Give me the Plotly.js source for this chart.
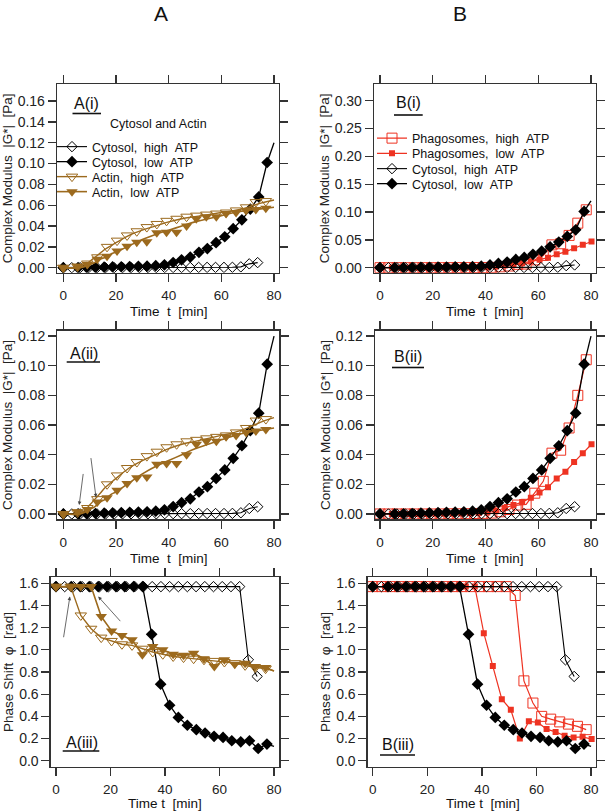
<!DOCTYPE html>
<html><head><meta charset="utf-8">
<script src="https://cdn.plot.ly/plotly-3.0.1.min.js"></script>
<style>html,body{margin:0;padding:0;background:#fff}#chart{width:609px;height:811px}</style>
</head><body><div id="chart"></div>
<script>
// ---------------- DATA ----------------
// Cytosol, high ATP
const cytHighT   = [0,3.2,6.4,9.6,12.8,16.0,19.3,22.5,25.7,28.9,32.1,35.3,38.5,41.7,44.9,48.2,51.4,54.6,57.8,61.0,64.2,67.4,70.6,73.8];
const cytHighG   = [0,0,0,0,0,0,0,0.0001,0.0001,0.0001,0.0001,0.0001,0.0002,0.0002,0.0002,0.0002,0.0003,0.0003,0.0003,0.0003,0.0004,0.0008,0.0037,0.0049];
const cytHighPhi = [1.57,1.57,1.57,1.57,1.57,1.57,1.57,1.57,1.57,1.57,1.57,1.57,1.57,1.57,1.57,1.57,1.57,1.57,1.57,1.57,1.57,1.57,0.91,0.76];
// Cytosol, low ATP
const cytLowT    = [0,5.6,8.9,12.2,15.5,18.7,22.0,25.2,28.5,31.8,35.1,38.4,41.7,44.9,48.2,51.5,54.7,58.0,61.3,64.5,67.8,71.0,74.2,77.4];
const cytLowG    = [0,0,0.0001,0.0003,0.0005,0.0007,0.0009,0.0011,0.0013,0.0015,0.0019,0.0028,0.005,0.0076,0.0102,0.0148,0.0184,0.024,0.0297,0.0375,0.046,0.0562,0.068,0.101];
const cytLowPhi  = [1.57,1.57,1.57,1.57,1.57,1.57,1.57,1.57,1.57,1.57,1.14,0.69,0.50,0.39,0.32,0.28,0.25,0.22,0.21,0.18,0.17,0.18,0.11,0.15];
const cytLowEndT = 80, cytLowEndG = 0.12, cytLowEndPhi = 0.13;
// Actin
const actinT       = [0,5.4,9.1,12.9,16.6,20.4,24.2,27.9,31.7,35.5,39.2,43.0,46.8,50.5,54.3,58.1,61.8,65.6,69.4,73.1,76.9];
const actinHighG   = [0,0.001,0.004,0.010,0.020,0.026,0.031,0.035,0.039,0.042,0.045,0.047,0.049,0.050,0.051,0.052,0.053,0.055,0.058,0.063,0.064];
const actinLowG    = [0,0.0015,0.003,0.008,0.011,0.016,0.0205,0.0245,0.025,0.0335,0.034,0.034,0.040,0.047,0.049,0.049,0.052,0.053,0.055,0.056,0.057];
const actinHighPhi = [1.57,1.57,1.31,1.19,1.11,1.08,1.05,1.04,1.01,0.98,0.96,0.94,0.93,0.92,0.91,0.90,0.89,0.88,0.86,0.84,0.83];
const actinLowPhi  = [1.57,1.57,1.57,1.57,1.30,1.17,1.13,1.09,0.955,1.03,1.00,0.96,0.95,0.97,0.92,0.85,0.91,0.87,0.88,0.85,0.84];
const actinEndT = 80, actinHighEndPhi = 0.81, actinLowEndPhi = 0.81;
// Actin fitted curves (modulus)
const actinFitT     = [0,6,8,10,12,14,16,18,20,25,30,35,40,45,50,55,60,65,70,75,80];
const actinHighFitG = [0,0,0.002,0.006,0.010,0.014,0.018,0.021,0.024,0.031,0.036,0.040,0.044,0.047,0.049,0.051,0.053,0.055,0.058,0.062,0.065];
const actinLowFitG  = [0,0,0.001,0.003,0.005,0.008,0.010,0.013,0.015,0.021,0.027,0.032,0.036,0.040,0.044,0.047,0.050,0.053,0.055,0.0565,0.058];
// Phagosomes, high ATP
const phHighT   = [0,3.3,6.5,9.8,13.0,16.3,19.6,22.8,26.1,29.3,32.6,35.9,39.1,42.4,45.6,48.9,52.2,55.4,58.7,61.9,65.2,68.5,71.7,75.0,78.2];
const phHighG   = [0,0,0,0,0,0,0,0,0.0001,0.0001,0.0002,0.0003,0.0004,0.0006,0.0015,0.003,0.006,0.0065,0.014,0.022,0.041,0.043,0.058,0.080,0.104];
const phHighPhi = [1.57,1.57,1.57,1.57,1.57,1.57,1.57,1.57,1.57,1.57,1.57,1.57,1.57,1.57,1.57,1.57,1.49,0.72,0.52,0.40,0.375,0.35,0.33,0.31,0.28];
// Phagosomes, low ATP
const phLowT    = [0,4.5,7.8,11.1,14.4,17.7,21.0,24.3,27.5,30.8,34.1,37.4,40.7,44.0,47.3,50.6,53.9,57.2,60.5,63.7,67.0,70.3,73.6,76.9,80.2];
const phLowG    = [0,0,0,0,0,0,0.0001,0.0001,0.0002,0.0003,0.0004,0.0006,0.001,0.002,0.004,0.006,0.008,0.011,0.0144,0.018,0.024,0.0285,0.035,0.041,0.047];
const phLowPhi  = [1.57,1.57,1.57,1.57,1.57,1.57,1.57,1.57,1.57,1.57,1.57,1.57,1.15,0.855,0.555,0.46,0.20,0.355,0.345,0.285,0.26,0.225,0.21,0.215,0.195];
// Arrow annotations (data coords: tail -> head)
const arrowsA2 = [{tx:7.6,ty:0.028,hx:6.0,hy:0.006},{tx:10.4,ty:0.0387,hx:12.4,hy:0.0112}];
const arrowsA3 = [{tx:2.7,ty:1.10,hx:5.1,hy:1.48},{tx:24.1,ty:1.245,hx:15.5,hy:1.48}];

// ---------------- STYLE ----------------
const W = 609, H = 811;
const FONT = 'Liberation Sans, Arial, Helvetica, sans-serif';
const BLACK = '#000000', BROWN = '#9c6a1e', RED = '#ee3322';
const sp = '\u00a0';

const traces = [];
function add(t){ traces.push(Object.assign({type:'scatter', hoverinfo:'skip'}, t)); }

function cytTraces(xa, ya, field, legHigh, legLow){
  const hi = field === 'G' ? cytHighG : cytHighPhi;
  const lo = field === 'G' ? cytLowG : cytLowPhi;
  const loEnd = field === 'G' ? cytLowEndG : cytLowEndPhi;
  add({x:cytHighT, y:hi, xaxis:xa, yaxis:ya, mode:'lines+markers', name:'Cytosol,'+sp+sp+'high'+sp+sp+'ATP',
       showlegend:!!legHigh, legend:legHigh||'legend',
       line:{color:BLACK,width:1.1}, marker:{symbol:'diamond-open',size:8,color:BLACK,line:{width:1}}});
  add({x:[cytLowT[cytLowT.length-1], cytLowEndT], y:[lo[lo.length-1], loEnd], xaxis:xa, yaxis:ya, mode:'lines',
       showlegend:false, line:{color:BLACK,width:1.3}});
  add({x:cytLowT, y:lo, xaxis:xa, yaxis:ya, mode:'lines+markers', name:'Cytosol,'+sp+sp+'low'+sp+sp+'ATP',
       showlegend:!!legLow, legend:legLow||'legend',
       line:{color:BLACK,width:1.3}, marker:{symbol:'diamond',size:9,color:BLACK}});
}

function actinModTraces(xa, ya, legHigh, legLow){
  add({x:actinFitT, y:actinHighFitG, xaxis:xa, yaxis:ya, mode:'lines', line:{color:BROWN,width:1.4,shape:'spline'}, showlegend:false});
  add({x:actinT, y:actinHighG, xaxis:xa, yaxis:ya, mode:'markers', showlegend:false,
       marker:{symbol:'triangle-down-open',size:10,color:BROWN,line:{width:1}}});
  add({x:actinFitT, y:actinLowFitG, xaxis:xa, yaxis:ya, mode:'lines', line:{color:BROWN,width:1.6,shape:'spline'}, showlegend:false});
  add({x:actinT, y:actinLowG, xaxis:xa, yaxis:ya, mode:'markers', showlegend:false,
       marker:{symbol:'triangle-down',size:10,color:BROWN}});
  if (legHigh){
    add({x:[null], y:[null], xaxis:xa, yaxis:ya, mode:'lines+markers', name:'Actin,'+sp+sp+'high'+sp+sp+'ATP', legend:legHigh,
         line:{color:BROWN,width:1.4}, marker:{symbol:'triangle-down-open',size:10,color:BROWN,line:{width:1}}});
    add({x:[null], y:[null], xaxis:xa, yaxis:ya, mode:'lines+markers', name:'Actin,'+sp+sp+'low'+sp+sp+'ATP', legend:legLow,
         line:{color:BROWN,width:1.6}, marker:{symbol:'triangle-down',size:10,color:BROWN}});
  }
}

function phagoTraces(xa, ya, field, legHigh, legLow){
  const hi = field === 'G' ? phHighG : phHighPhi;
  const lo = field === 'G' ? phLowG : phLowPhi;
  add({x:phHighT, y:hi, xaxis:xa, yaxis:ya, mode:'lines+markers', name:'Phagosomes,'+sp+sp+'high'+sp+sp+'ATP',
       showlegend:!!legHigh, legend:legHigh||'legend',
       line:{color:RED,width:1.2}, marker:{symbol:'square-open',size:10,color:RED,line:{width:1}}});
  add({x:phLowT, y:lo, xaxis:xa, yaxis:ya, mode:'lines+markers', name:'Phagosomes,'+sp+sp+'low'+sp+sp+'ATP',
       showlegend:!!legLow, legend:legLow||'legend',
       line:{color:RED,width:1.2}, marker:{symbol:'square',size:6,color:RED}});
}

// A(i)
cytTraces('x','y','G','legend','legend2');
actinModTraces('x','y','legend3','legend4');
// A(ii)
cytTraces('x2','y2','G');
actinModTraces('x2','y2');
// A(iii)
cytTraces('x3','y3','Phi');
add({x:actinT.concat([actinEndT]), y:actinHighPhi.concat([actinHighEndPhi]), xaxis:'x3', yaxis:'y3', mode:'lines', showlegend:false, line:{color:BROWN,width:1.4}});
add({x:actinT, y:actinHighPhi, xaxis:'x3', yaxis:'y3', mode:'markers', showlegend:false, marker:{symbol:'triangle-down-open',size:10,color:BROWN,line:{width:1}}});
add({x:actinT.concat([actinEndT]), y:actinLowPhi.concat([actinLowEndPhi]), xaxis:'x3', yaxis:'y3', mode:'lines', showlegend:false, line:{color:BROWN,width:1.6}});
add({x:actinT, y:actinLowPhi, xaxis:'x3', yaxis:'y3', mode:'markers', showlegend:false, marker:{symbol:'triangle-down',size:10,color:BROWN}});
// B(i)
phagoTraces('x4','y4','G','legend5','legend6');
cytTraces('x4','y4','G','legend7','legend8');
// B(ii)
phagoTraces('x5','y5','G');
cytTraces('x5','y5','G');
// B(iii)
phagoTraces('x6','y6','Phi');
cytTraces('x6','y6','Phi');

// ---------------- LAYOUT ----------------
function xax(l, r, range, anchor){
  return {domain:[l/W, r/W], range:range, anchor:anchor, showline:true, mirror:'ticks', linecolor:'#333', linewidth:1.3,
          ticks:'outside', ticklen:8, tickwidth:1.3, tickcolor:'#333', tick0:0, dtick:20, showgrid:false, zeroline:false,
          ticklabelstandoff:2, tickfont:{size:13.5,color:'#222'}};
}
function yax(top, bot, range, dtick, fmt, title, anchor){
  return {domain:[1-bot/H, 1-top/H], range:range, anchor:anchor, showline:true, mirror:'ticks', linecolor:'#333', linewidth:1.3,
          ticks:'outside', ticklen:8, tickwidth:1.3, tickcolor:'#333', tick0:0, dtick:dtick, tickformat:fmt, showgrid:false, zeroline:false,
          tickfont:{size:14,color:'#222'}, title:{text:title, font:{size:13.5,color:'#222'}, standoff:2}};
}
const tT = 'Time'+sp+sp+'t'+sp+sp+'[min]';
const tT3 = 'Time'+sp+'t'+sp+sp+'[min]';
const tG = 'Complex Modulus'+sp+sp+'|G*|'+sp+sp+'[Pa]';
const tP = 'Phase Shift'+sp+sp+'φ'+sp+sp+'[rad]';

function legendAt(xp, yc){ return {x:xp/W, y:1-yc/H, xanchor:'left', yanchor:'middle', bgcolor:'rgba(0,0,0,0)', borderwidth:0,
  font:{size:12.5,color:'#111',family:FONT}, itemwidth:30, orientation:'v'}; }

const annotations = [];
function label(text, xc, yc, size){ annotations.push({text:text, xref:'paper', yref:'paper', x:xc/W, y:1-yc/H, xanchor:'center', yanchor:'middle', showarrow:false, font:{size:size,color:'#111'}}); }
label('A', 161, 13, 21);
label('B', 460, 13, 21);
label('A(i)', 86.5, 103.5, 16);
label('Cytosol and Actin', 158, 124, 12.5);
label('A(ii)', 84, 354, 16);
label('A(iii)', 81.5, 742.5, 16);
label('B(i)', 408.5, 102.5, 16);
label('B(ii)', 408, 356, 16);
label('B(iii)', 398, 744, 16);
// x-axis titles
label(tT, 169, 311, 13.5);
label(tT, 169, 558, 13.5);
label(tT3, 165, 803, 13.5);
label(tT, 485, 311, 13.5);
label(tT, 485, 558, 13.5);
label(tT3, 482.5, 803, 13.5);
arrowsA2.forEach(a => annotations.push({x:a.hx, y:a.hy, ax:a.tx, ay:a.ty, xref:'x2', yref:'y2', axref:'x2', ayref:'y2', text:'', showarrow:true, arrowhead:2, arrowsize:0.9, arrowwidth:0.8, arrowcolor:'#444'}));
arrowsA3.forEach(a => annotations.push({x:a.hx, y:a.hy, ax:a.tx, ay:a.ty, xref:'x3', yref:'y3', axref:'x3', ayref:'y3', text:'', showarrow:true, arrowhead:2, arrowsize:0.9, arrowwidth:0.8, arrowcolor:'#444'}));

const shapes = [];
function uline(x0, x1, y){ shapes.push({type:'line', xref:'paper', yref:'paper', x0:x0/W, x1:x1/W, y0:1-y/H, y1:1-y/H, line:{color:'#111', width:1.6}}); }
uline(72.5, 101, 113.5);
uline(66.7, 100, 362);
uline(62.7, 99.3, 751);
uline(394, 422.7, 115);
uline(392, 424, 367.5);
uline(380, 415, 755);

const layout = {
  width:W, height:H, margin:{l:0,r:0,t:0,b:0}, paper_bgcolor:'#fff', plot_bgcolor:'#fff',
  font:{family:FONT, color:'#222'},
  xaxis:  xax(57, 279,   [-2.4, 81.9], 'y'),
  yaxis:  yax(84, 272.7, [-0.0048, 0.1764], 0.02, '.2f', tG, 'x'),
  xaxis2: xax(57.3, 279.3, [-2.3, 82.0], 'y2'),
  yaxis2: yax(330.7, 519.3, [-0.0036, 0.1236], 0.02, '.2f', tG, 'x2'),
  xaxis3: xax(50.7, 279.3, [-1.94, 81.94], 'y3'),
  yaxis3: yax(577.3, 766.7, [-0.054, 1.654], 0.2, '.1f', tP, 'x3'),
  xaxis4: xax(374, 596, [-2.27, 81.9], 'y4'),
  yaxis4: yax(84, 272.7, [-0.009, 0.33], 0.05, '.2f', tG, 'x4'),
  xaxis5: xax(375, 596, [-1.9, 81.9], 'y5'),
  yaxis5: yax(330.7, 519.3, [-0.0036, 0.1236], 0.02, '.2f', tG, 'x5'),
  xaxis6: xax(367.7, 596, [-1.83, 81.8], 'y6'),
  yaxis6: yax(577.3, 766.7, [-0.054, 1.654], 0.2, '.1f', tP, 'x6'),
  legend:  legendAt(52, 147),
  legend2: legendAt(52, 162),
  legend3: legendAt(52, 177),
  legend4: legendAt(52, 192),
  legend5: legendAt(372, 138.5),
  legend6: legendAt(372, 153.7),
  legend7: legendAt(372, 169),
  legend8: legendAt(372, 184),
  annotations: annotations,
  shapes: shapes
};

Plotly.newPlot('chart', traces, layout, {staticPlot:true, displayModeBar:false});
</script>
</body></html>
